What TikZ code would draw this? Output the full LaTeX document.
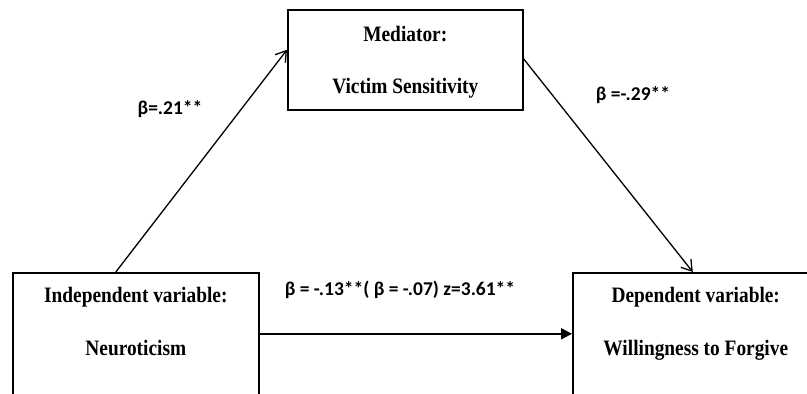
\documentclass[tikz,border=0pt]{standalone}
\usepackage{fontspec}
\setmainfont{Liberation Serif}
\newfontfamily\boxfont[FakeStretch=0.88]{Liberation Serif}
\newfontfamily\coeffont{Carlito}
\usetikzlibrary{arrows.meta}
\usetikzlibrary{positioning}

\begin{document}
\begin{tikzpicture}[x=1pt, y=-1pt,
    varbox/.style = {draw, line width=1.6pt, anchor=north west, inner sep=0pt,
                     minimum width=246pt, minimum height=140pt},
    boxtext/.style = {anchor=base, font=\boxfont\fontsize{22}{26}\selectfont\bfseries},
    coef/.style = {font=\coeffont\fontsize{19.5}{23}\selectfont\bfseries},
    link/.style = {line width=1.3pt, -{Straight Barb[length=10pt,width=13pt]}},
    mainlink/.style = {line width=2pt, -{Triangle[length=11pt,width=11pt]}}]
    \useasboundingbox (0,0) rectangle (807,394);
    \clip (0,0) rectangle (807,394);

    % draw boxes
    \node[varbox, minimum width=235pt, minimum height=100pt] (med) at (287,9) {};
    \node[varbox] (iv) at (12,272) {};
    \node[varbox] (dv) at (572,272) {};

    % draw box texts
    \node[boxtext] (medtitle) at ([yshift=-32pt]med.north) {Mediator:};
    \node[boxtext] (medname) at ([yshift=-84pt]med.north) {Victim Sensitivity};
    \node[boxtext] (ivtitle) at ([yshift=-30pt]iv.north) {Independent variable:};
    \node[boxtext] (ivname) at ([yshift=-83pt]iv.north) {Neuroticism};
    \node[boxtext] (dvtitle) at ([yshift=-30pt]dv.north) {Dependent variable:};
    \node[boxtext] (dvname) at ([yshift=-83pt]dv.north) {Willingness to Forgive};

    % draw paths
    \draw[link] ([xshift=-20pt]iv.north) -- ([yshift=10pt]med.west);
    \draw[link] ([yshift=1pt]med.east) -- ([xshift=-3pt]dv.north);
    \draw[mainlink] ([yshift=9pt]iv.east) -- ([yshift=9pt]dv.west);

    % draw coefficients
    \node[coef] (apath) at (170,109) {β=.21**};
    \node[coef] (bpath) at (633,95) {β =-.29**};
    \node[coef] (cpath) at (400,290) {β = -.13**( β = -.07) z=3.61**};
\end{tikzpicture}
\end{document}
